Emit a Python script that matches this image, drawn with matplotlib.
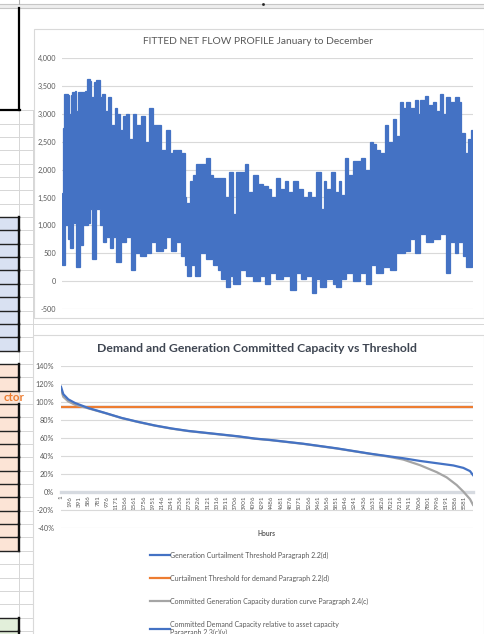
import numpy as np
import matplotlib
matplotlib.use("Agg")
import matplotlib.pyplot as plt
from matplotlib.patches import Rectangle
from matplotlib.ticker import FuncFormatter

plt.rcParams['font.family'] = ['Lato', 'DejaVu Sans']

''' Data read off the picture '''
'''=========================='''
# top chart: upper / lower edge of the hourly net flow trace
flow_upper_hour = [0, 21, 43, 128, 149, 185, 220, 270, 305, 341, 448, 497, 533, 590, 625, 682, 732, 803, 853, 909,
                   980, 1051, 1123, 1179, 1229, 1300, 1371, 1428, 1513, 1584, 1691, 1762, 1847, 1940, 2046, 2117,
                   2224, 2295, 2366, 2437, 2543, 2614, 2650, 2721, 2792, 2863, 2970, 3076, 3147, 3218, 3360, 3467,
                   3559, 3645, 3716, 3822, 3908, 3964, 4071, 4177, 4284, 4391, 4462, 4554, 4639, 4746, 4817, 4924,
                   5030, 5137, 5243, 5314, 5421, 5513, 5577, 5634, 5726, 5812, 5897, 5954, 6039, 6096, 6202, 6273,
                   6380, 6451, 6558, 6629, 6700, 6771, 6877, 6948, 7055, 7126, 7197, 7268, 7339, 7410, 7517, 7588,
                   7623, 7730, 7801, 7907, 7979, 8050, 8121, 8192, 8263, 8369, 8462, 8511, 8582, 8653, 8689, 8724,
                   8760]
flow_upper = [1580, 2750, 3350, 3330, 3000, 3330, 3380, 3400, 3050, 3380, 3380, 3400, 3620, 3580, 3300, 3560, 3600,
              3300, 3350, 3050, 3290, 2800, 3100, 3000, 2700, 2950, 3000, 2550, 3000, 2800, 2950, 2500, 3100, 2800,
              2800, 2350, 2700, 2300, 2350, 2350, 2300, 1500, 1400, 1800, 1900, 2100, 2100, 2200, 1900, 1850, 1850,
              1500, 1950, 1200, 1950, 1950, 2100, 1600, 1900, 1750, 1700, 1650, 1500, 1850, 1650, 1800, 1600, 1800,
              1650, 1500, 1600, 1500, 1950, 1300, 1800, 1650, 1950, 1600, 1800, 1550, 2200, 1900, 2150, 2150, 2200,
              2000, 2500, 2450, 2350, 2300, 2800, 2500, 2900, 2600, 3200, 3100, 3200, 3100, 3250, 3000, 3250, 3320,
              3150, 3200, 3050, 3350, 3000, 3300, 3200, 3300, 3200, 2650, 2300, 2550, 2000, 2700, 2650]
flow_lower_hour = [0, 57, 128, 178, 234, 305, 377, 448, 554, 590, 647, 732, 803, 874, 945, 1016, 1087, 1158, 1265,
                   1371, 1478, 1549, 1655, 1797, 1904, 2011, 2153, 2224, 2330, 2437, 2543, 2614, 2671, 2757, 2828,
                   2934, 3076, 3218, 3325, 3396, 3503, 3574, 3645, 3787, 3929, 4071, 4213, 4320, 4426, 4568, 4710,
                   4852, 4995, 5101, 5208, 5336, 5421, 5506, 5634, 5776, 5847, 5954, 6060, 6202, 6344, 6486, 6593,
                   6700, 6842, 6984, 7126, 7303, 7410, 7517, 7623, 7765, 7907, 8050, 8192, 8263, 8369, 8440, 8547,
                   8618, 8689, 8746, 8760]
flow_lower = [300, 1000, 750, 600, 1050, 250, 650, 1000, 1050, 1300, 400, 1300, 1000, 700, 800, 600, 800, 350, 700,
              800, 200, 500, 450, 500, 700, 550, 600, 800, 550, 700, 450, 300, 100, 300, 100, 500, 400, 300, 200, 50,
              -100, 100, -50, 200, 100, 0, 100, -50, 150, 50, 100, -150, 150, 50, 100, -200, 50, -100, 50, -50, -100,
              50, 150, 0, 150, -50, 300, 150, 250, 200, 500, 550, 750, 500, 850, 700, 750, 850, 150, 700, 500, 700,
              450, 250, 250, 700, 700]

# bottom chart: duration curves (% of capacity)
threshold_hours = [1, 8760]
gen_threshold = [94, 94]
demand_threshold = [94, 94]
gen_hours = [1, 50, 156, 299, 582, 936, 1291, 1645, 2000, 2354, 2708, 3062, 3417, 3771, 4125, 4444, 5152, 5862,
             6570, 6925, 7279, 7634, 7988, 8200, 8413, 8555, 8697, 8760]
gen_capacity = [114, 105.8, 100.7, 97, 93, 87.8, 82.2, 77.8, 73.8, 70.5, 67.8, 65.8, 63.8, 61.8, 59.3, 57.8, 53.6,
                48.5, 42.6, 39.8, 36.2, 30, 22.3, 16.5, 8, 0.7, -7.7, -14]
demand_hours = [1, 50, 156, 299, 582, 936, 1291, 1645, 2000, 2354, 2708, 3062, 3417, 3771, 4125, 4444, 5152, 5862,
                6570, 6925, 7279, 7634, 7988, 8342, 8555, 8697, 8760]
demand_capacity = [117, 108.8, 103, 99, 93.4, 88, 82.4, 78, 74, 70.7, 68, 66, 64, 62, 59.5, 58, 53.8, 48.7, 42.8,
                   40.2, 37.7, 34.7, 32.2, 29.7, 27, 23.4, 19]
hour_ticks = [1, 196, 391, 586, 781, 976, 1171, 1366, 1561, 1756, 1951, 2146, 2341, 2536, 2731, 2926, 3121, 3316,
              3511, 3706, 3901, 4096, 4291, 4486, 4681, 4876, 5071, 5266, 5461, 5656, 5851, 6046, 6241, 6436, 6631,
              6826, 7021, 7216, 7411, 7606, 7801, 7996, 8191, 8386, 8581]
series_names = ["Generation Curtailment Threshold Paragraph 2.2(d)",
                "Curtailment Threshold for demand Paragraph 2.2(d)",
                "Committed Generation Capacity duration curve Paragraph 2.4(c)",
                "Committed Demand Capacity relative to asset capacity\nParagraph 2.3(c)(v)"]

BLUE = '#4472C4'
ORANGE = '#ED7D31'
GRAY = '#A5A5A5'
TXT = '#595959'
GRID = '#D9D9D9'
W, H = 485, 634

fig = plt.figure(figsize=(W / 100, H / 100), dpi=100)

'''Spreadsheet behind the charts'''
'''============================'''
bg = fig.add_axes([0, 0, 1, 1])
bg.set_xlim(0, W)
bg.set_ylim(H, 0)
bg.axis('off')

rows = np.arange(110.3, H + 14, 13.35)
for y in rows:
    bg.plot([0, W], [y, y], color='#D6D6D6', lw=0.7, zorder=1)
bg.plot([19.3, 19.3], [110, H], color='#D6D6D6', lw=0.7, zorder=1)
bg.plot([33.3, 33.3], [110, H], color='#D6D6D6', lw=0.7, zorder=1)

# header strip
bg.add_patch(Rectangle((0, 3.5), W, 4.8, facecolor='#EEEEEE', edgecolor='none', zorder=2))
bg.plot([0, W], [3.8, 3.8], color='#C6C6C6', lw=0.8, zorder=3)
bg.plot([0, W], [8.2, 8.2], color='#C6C6C6', lw=0.8, zorder=3)
bg.plot([19.3, 19.3], [0, 4], color='#B0B0B0', lw=0.8, zorder=3)
bg.plot([263], [4], marker='s', ms=0.9, color='#222222', zorder=3)

# merged box at top left
bg.plot([19, 19], [8.3, 110.3], color='black', lw=1.6, zorder=4)
bg.plot([0, 19.8], [110.3, 110.3], color='black', lw=1.6, zorder=4)

def cell_block(y0, n, colour, skip_right=()):
    for i in range(n):
        top = y0 + i * 13.35
        bg.add_patch(Rectangle((0, top), 18.6, 13.35, facecolor=colour, edgecolor='none', zorder=3))
        bg.plot([0, 18.6], [top, top], color='#222222', lw=1.0, zorder=4)
        if i not in skip_right:
            bg.plot([18.6, 18.6], [top, top + 13.35], color='#111111', lw=1.7, zorder=4)
    bg.plot([0, 18.6], [y0 + n * 13.35] * 2, color='#222222', lw=1.0, zorder=4)

cell_block(rows[8], 10, '#D9E1F2')
cell_block(rows[19], 14, '#FCE4D6', skip_right=(2,))
cell_block(rows[38], 2, '#E2EFDA')
bg.text(25, rows[21] + 7, 'ctor', ha='right', va='center', fontsize=8.3, fontweight='bold',
        color=ORANGE, zorder=5)

# chart frames
bg.add_patch(Rectangle((34, 29), 450, 289.3, facecolor='white', edgecolor=GRID, lw=0.8, zorder=6))
bg.add_patch(Rectangle((33.5, 335), 450.5, 310, facecolor='white', edgecolor=GRID, lw=0.8, zorder=6))

'''Top chart: fitted net flow'''
'''========================='''
ax1 = fig.add_axes([62 / W, 1 - 309.3 / H, 411 / W, 251.6 / H])
ax1.patch.set_alpha(0)
# hourly trace drawn as stepped band between its top and bottom edges
ux = np.repeat(flow_upper_hour, 2)[1:]
uy = np.repeat(flow_upper, 2)[:-1]
lx = np.repeat(flow_lower_hour, 2)[1:]
ly = np.repeat(flow_lower, 2)[:-1]
ax1.fill(np.concatenate([ux, lx[::-1]]), np.concatenate([uy, ly[::-1]]),
         facecolor=BLUE, edgecolor=BLUE, lw=0.9, zorder=3)
ax1.set_xlim(0, 8760)
ax1.set_ylim(-500, 4000)
ax1.set_yticks(range(-500, 4001, 500))
ax1.yaxis.set_major_formatter(FuncFormatter(lambda v, p: f"{int(v):,}"))
ax1.set_xticks([])
ax1.tick_params(axis='y', length=0, labelsize=5.2, labelcolor=TXT, pad=4)
ax1.grid(axis='y', color=GRID, lw=0.8)
ax1.set_axisbelow(True)
for s in ax1.spines.values():
    s.set_visible(False)
bg.text(258, 42, 'FITTED NET FLOW PROFILE January to December', ha='center', va='center',
        fontsize=7.4, color=TXT, zorder=7)

'''Bottom chart: duration curves vs threshold'''
'''========================================='''
ax2 = fig.add_axes([61 / W, 1 - 528.3 / H, 412 / W, 162.3 / H])
ax2.patch.set_alpha(0)
for k in ['left', 'right', 'top']:
    ax2.spines[k].set_visible(False)
ax2.spines['bottom'].set_position(('data', 0))
ax2.spines['bottom'].set_color('#D6DAE0')
ax2.spines['bottom'].set_linewidth(2.4)
l1, = ax2.plot(threshold_hours, gen_threshold, color=BLUE, lw=1.6, zorder=3)
l2, = ax2.plot(threshold_hours, demand_threshold, color=ORANGE, lw=1.6, zorder=4)
l3, = ax2.plot(gen_hours, gen_capacity, color=GRAY, lw=1.6, zorder=5)
l4, = ax2.plot(demand_hours, demand_capacity, color=BLUE, lw=1.6, zorder=6)
ax2.set_xlim(1, 8760)
ax2.set_ylim(-40, 140)
ax2.set_yticks(range(-40, 141, 20))
ax2.yaxis.set_major_formatter(FuncFormatter(lambda v, p: f"{int(v)}%"))
ax2.set_xticks(hour_ticks)
ax2.set_xticklabels([str(h) for h in hour_ticks])
ax2.tick_params(axis='y', length=0, labelsize=5.2, labelcolor=TXT, pad=5)
ax2.tick_params(axis='x', length=0, labelsize=4.5, labelcolor=TXT, pad=2.5, labelrotation=90)
ax2.grid(axis='y', color=GRID, lw=0.8)
ax2.set_axisbelow(True)
bg.text(257, 348.5, 'Demand and Generation Committed Capacity vs Threshold', ha='center', va='center',
        fontsize=8.8, fontweight='bold', color='#3F4652', zorder=7)
bg.text(267, 533, 'Hours', ha='center', va='center', fontsize=4.8, fontweight='bold', color=TXT, zorder=7)

ax2.legend([l1, l2, l3, l4], series_names, loc='upper left', bbox_to_anchor=(150 / W, 1 - 551.5 / H),
           bbox_transform=fig.transFigure, frameon=False, fontsize=5.0, labelcolor=TXT,
           handlelength=2.9, handletextpad=0.05, labelspacing=2.3, borderpad=0, borderaxespad=0)

fig.savefig('out.png', dpi=100)
